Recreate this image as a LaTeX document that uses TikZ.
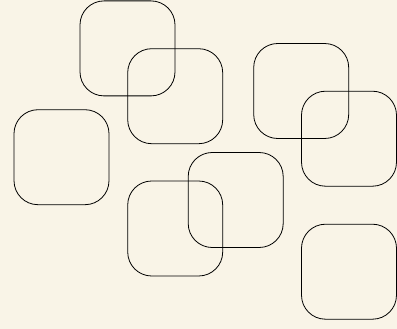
\documentclass[tikz,border=0pt]{standalone}
\usepackage{tikz}
\usetikzlibrary{positioning}
\definecolor{paper}{RGB}{249,244,231}

\begin{document}
\begin{tikzpicture}[
  x=1pt, y=-1pt,
  tile/.style={rectangle, rounded corners=24pt, draw=black, line width=0.8pt, minimum size=95pt, inner sep=0pt}
]
\fill[paper] (0,0) rectangle (397,329);
\useasboundingbox (0,0) rectangle (397,329);
\node[tile] (t1) at (127.5,48.4) {};
\node[tile] (t2) at (175.2,96.2) {};
\node[tile] (t3) at (301.2,91) {};
\node[tile] (t4) at (349,138.7) {};
\node[tile] (t5) at (61.5,157.2) {};
\node[tile] (t6) at (235.7,200) {};
\node[tile] (t7) at (175.2,228.5) {};
\node[tile] (t8) at (349,271.7) {};
\end{tikzpicture}
\end{document}
